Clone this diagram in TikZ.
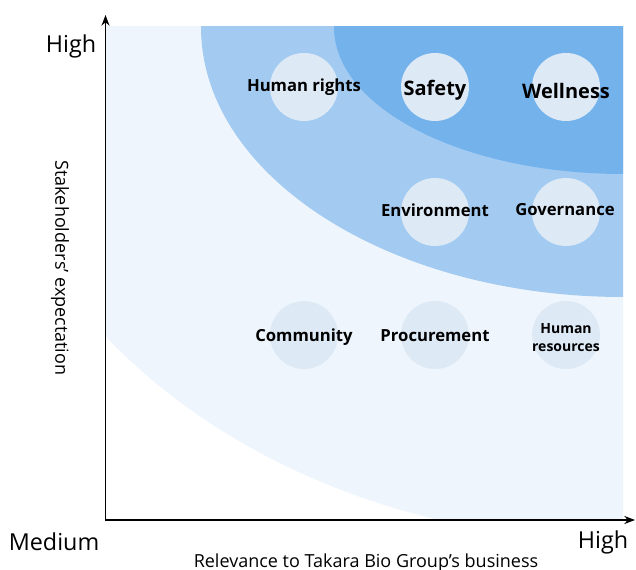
\documentclass[tikz,border=0pt]{standalone}
\usepackage{fontspec}
\setmainfont{Open Sans}
\usepackage{tikz}
\usetikzlibrary{arrows.meta}
\definecolor{FieldPale}{HTML}{EFF5FC}
\definecolor{FieldMid}{HTML}{A3CBF2}
\definecolor{FieldDeep}{HTML}{74B2EC}
\definecolor{TopicDisc}{HTML}{DDE9F5}

\tikzset{
  topic/.style={circle,fill=TopicDisc,minimum size=51pt,inner sep=0pt},
  topiclabel/.style={font=\bfseries\fontsize{12.5}{14}\selectfont,align=center,inner sep=0pt},
  axislabel/.style={font=\fontsize{17.5}{20}\selectfont,inner sep=0pt},
  axistitle/.style={font=\fontsize{13.5}{16}\selectfont,inner sep=0pt},
}

\begin{document}
\begin{tikzpicture}[x=0.75pt,y=-0.75pt]
    \useasboundingbox (0,0) rectangle (636,570);

    % fields, all three centred on the top right corner
    \begin{scope}
     \clip (106,27) rectangle (623,518);
     \fill[FieldPale] (623,27) ellipse [x radius=648,y radius=514];
     \fill[FieldMid] (623,27) ellipse [x radius=422,y radius=270];
     \fill[FieldDeep] (623,27) ellipse [x radius=289,y radius=147];
    \end{scope}

    \foreach \x/\y/\name in {304/87/rights,435/87/safety,566/87/wellness,
                             435/212/environment,566/212/governance,
                             304/335/community,435/335/procurement,566/335/resources} {
     \node[topic] (\name) at (\x,\y) {};
    }
    \node[topiclabel] (rightslbl) at (304,87) {Human rights};
    \node[topiclabel,font=\bfseries\fontsize{15}{18}\selectfont] (safetylbl) at (435,90) {Safety};
    \node[topiclabel,font=\bfseries\fontsize{15}{18}\selectfont] (wellnesslbl) at (566,91) {Wellness};
    \node[topiclabel] (environmentlbl) at (435,210) {Environment};
    \node[topiclabel] (governancelbl) at (565,210) {Governance};
    \node[topiclabel] (communitylbl) at (304,337) {Community};
    \node[topiclabel] (procurementlbl) at (435,336) {Procurement};
    \node[topiclabel,font=\bfseries\fontsize{10.5}{13.5}\selectfont] (resourceslbl) at (566,338) {Human\\resources};

    % axes
    \coordinate (origin) at (105.5,520);
    \coordinate (ytip) at (105.5,15);
    \coordinate (xtip) at (635,520);
    \draw[line width=1.3pt,{Stealth[length=8pt,width=6pt]}-{Stealth[length=8pt,width=6pt]}]
      (ytip) -- (origin) -- (xtip);

    \node[axislabel] (yhigh) at (71,46) {High};
    \node[axislabel] (xlow) at (54,542) {Medium};
    \node[axislabel] (xhigh) at (603,542) {High};
    \node[axistitle,rotate=-90] (ytitle) at (60,268) {Stakeholders’ expectation};
    \node[axistitle] (xtitle) at (366,563) {Relevance to Takara Bio Group’s business};
\end{tikzpicture}
\end{document}
